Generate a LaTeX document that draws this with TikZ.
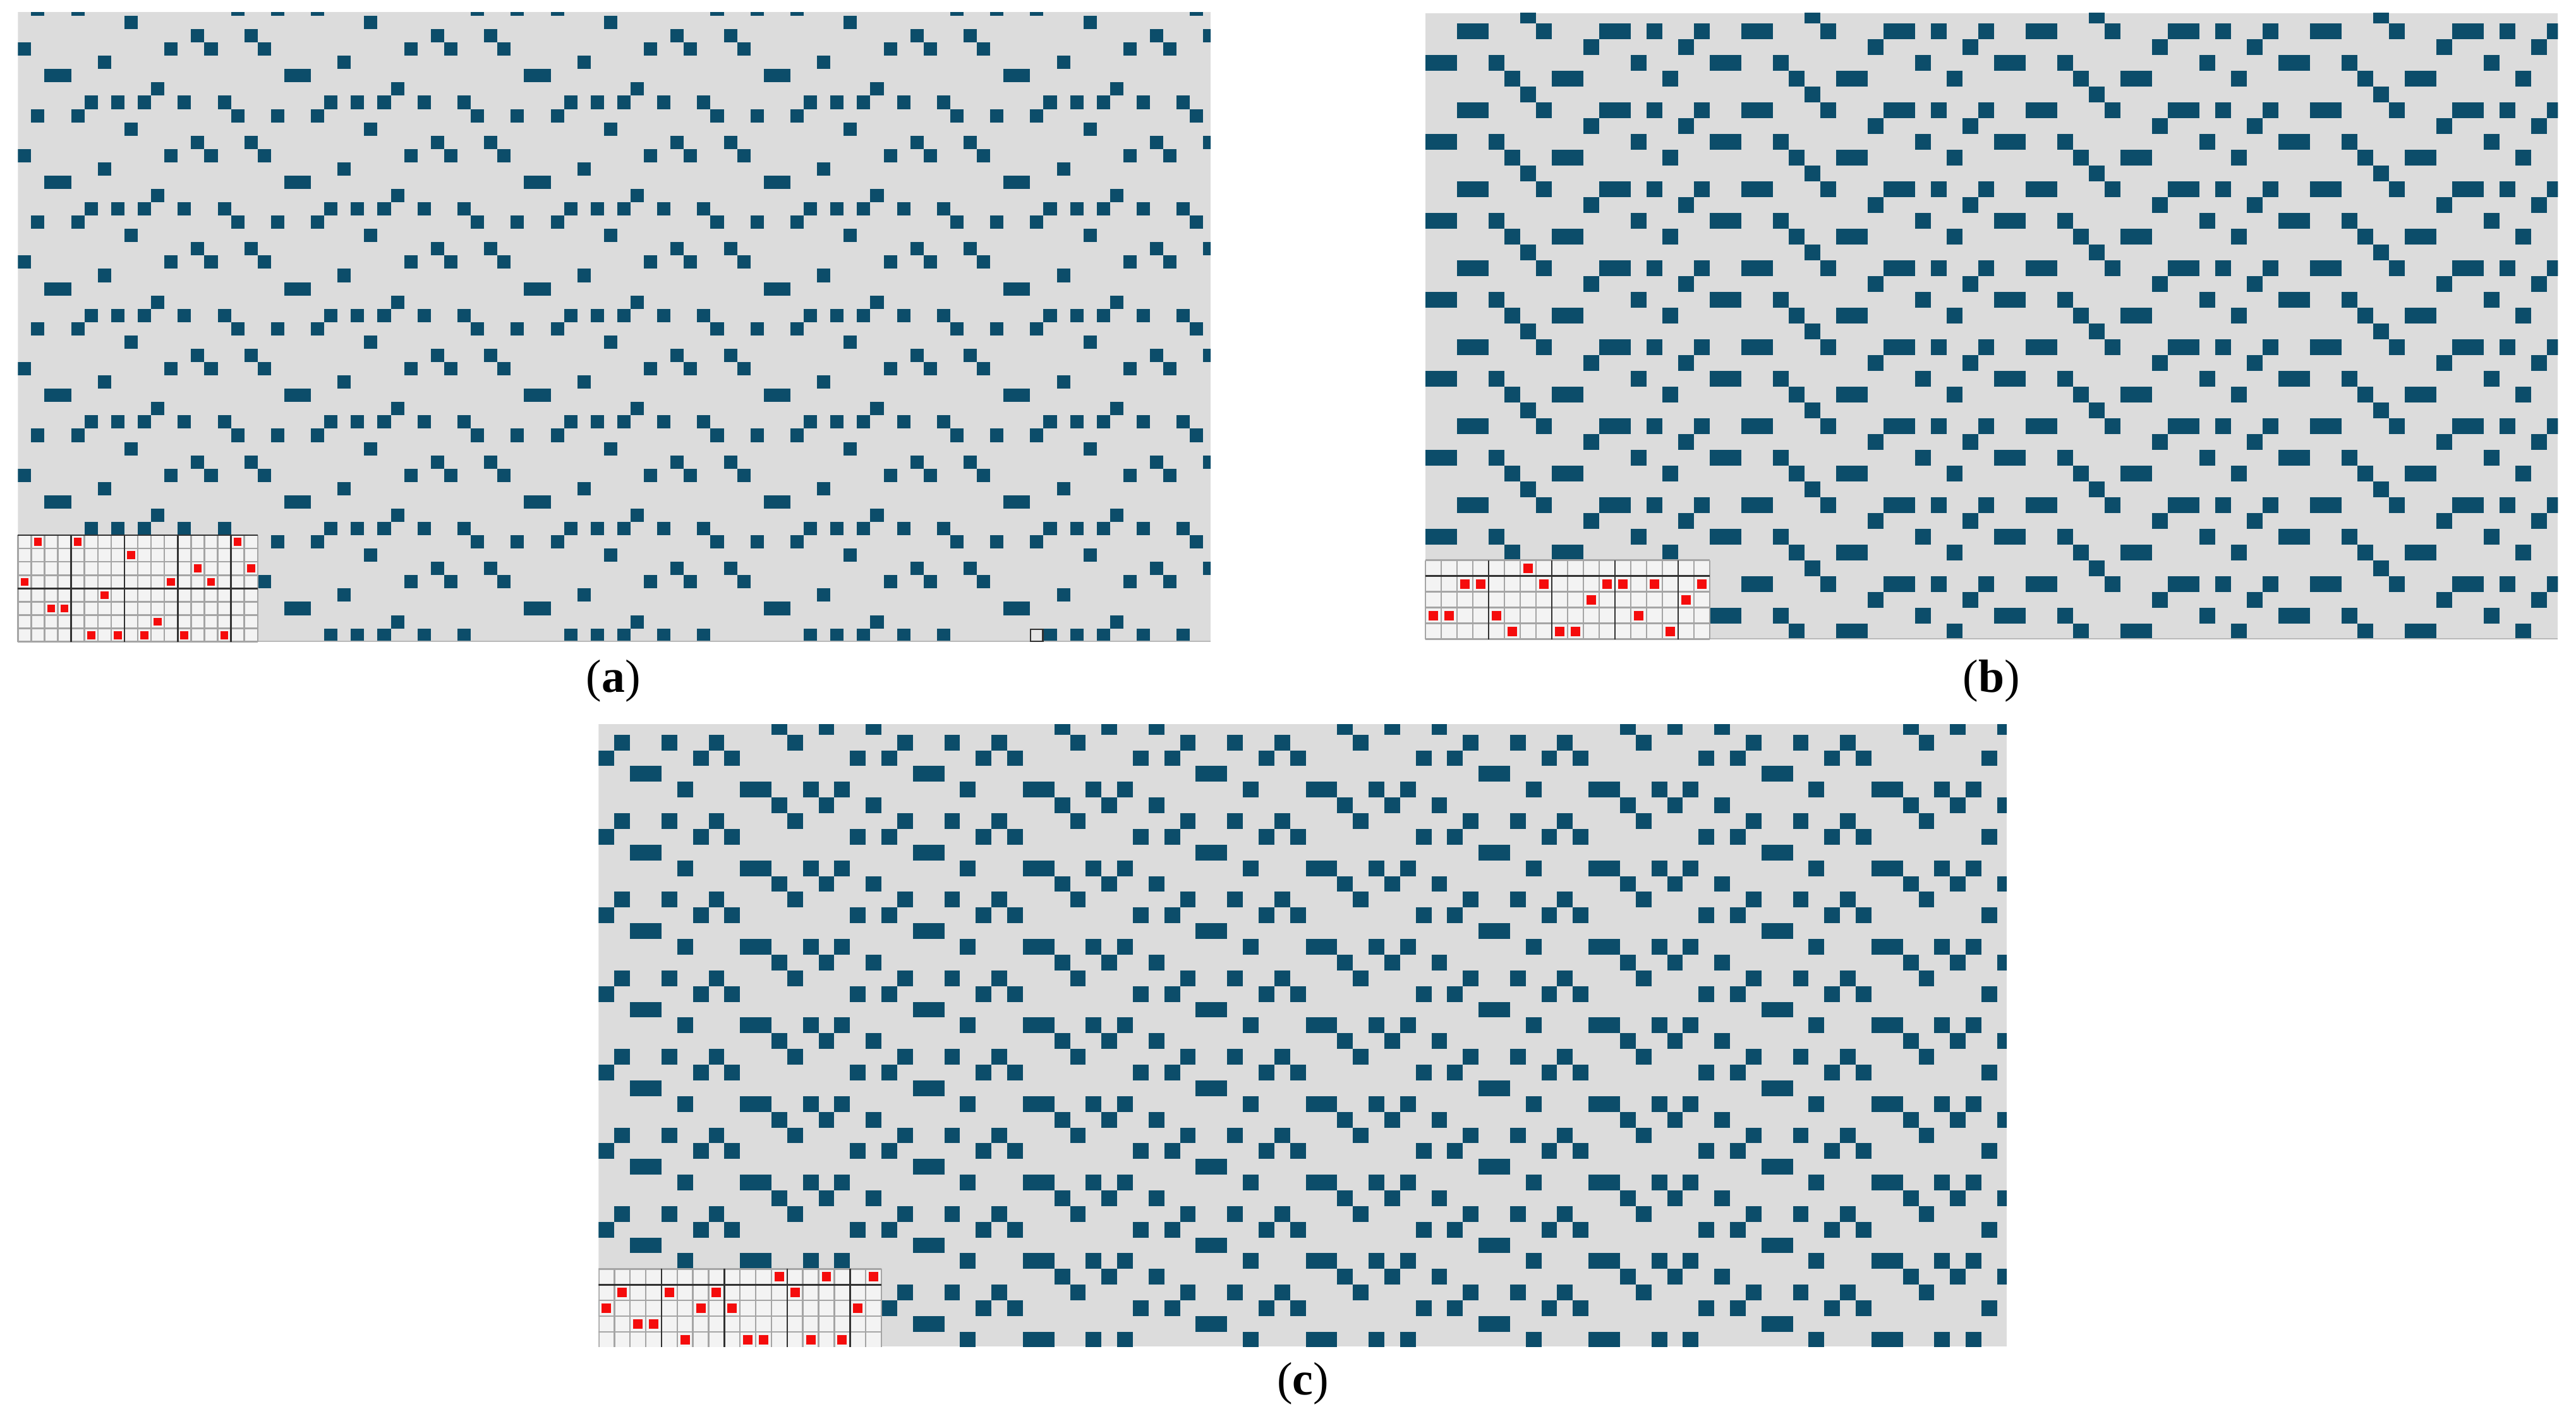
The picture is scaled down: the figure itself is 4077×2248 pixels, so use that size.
\documentclass[tikz,border=0pt]{standalone}
\usepackage{fontspec}
\setmainfont{Liberation Serif}
\definecolor{bgray}{RGB}{220,220,220}
\definecolor{weave}{RGB}{12,77,106}
\definecolor{gridlight}{RGB}{165,165,165}
\definecolor{griddark}{RGB}{50,50,50}
\definecolor{insetfill}{RGB}{243,243,243}
\definecolor{dotred}{RGB}{245,12,12}
\definecolor{edgegray}{RGB}{185,185,185}
\tikzset{
  panelbg/.style={fill=bgray},
  wcell/.style={fill=weave},
  ifill/.style={fill=insetfill},
  rdot/.style={fill=dotred},
  gthin/.style={draw=gridlight,line width=0.7pt},
  gthick/.style={draw=griddark,line width=0.75pt},
  edgeln/.style={draw=edgegray,line width=0.5pt},
  lbl/.style={font=\fontsize{21}{24}\selectfont,anchor=base,inner sep=0pt}
}
\begin{document}
\begin{tikzpicture}[x=0.1mm,y=-0.1mm]
\useasboundingbox (0,0) rectangle (4077,2248);
\fill[white] (0,0) rectangle (4077,2248);

% ---------------- panel (a) ----------------
\begin{scope}
\clip (28.3,19.3) rectangle (1916,1015.7);
\fill[panelbg] (28.3,19.3) rectangle (1916,1015.7);
\foreach \tx in {0,...,4}{
 \foreach \ty in {0,...,5}{
  \foreach \c/\j in {5/0,7/0,9/0,12/0,15/0,10/1,2/2,3/2,6/3,0/4,11/4,14/4,13/5,17/5,8/6,1/7,4/7,16/7}{
   \fill[wcell] ({28.3+(18*\tx+\c)*21.08},{1015.7-(8*\ty+\j)*21.08}) rectangle ++(21.08,-21.08);
  }}}
\draw[edgeln] (28.3,1015.2) -- (1916,1015.2);
\end{scope}
% selection outline
\draw[draw=griddark,line width=0.6pt,fill=bgray!70!white] (1631.4,1014.7) rectangle (1650.5,995.6);
% inset (a)
\fill[ifill] (28.3,847.1) rectangle (407.7,1015.7);
\foreach \c/\j in {5/0,7/0,9/0,12/0,15/0,10/1,2/2,3/2,6/3,0/4,11/4,14/4,13/5,17/5,8/6,1/7,4/7,16/7}{
  \fill[rdot] ({28.3+(\c+0.2)*21.08},{1015.7-(\j+0.2)*21.08}) rectangle ++(12.65,-12.65);
}
\foreach \k in {0,...,18}{\draw[gthin] ({28.3+\k*21.08},847.1) -- ({28.3+\k*21.08},1015.7);}
\foreach \k in {0,...,7}{\draw[gthin] (28.3,{1015.7-\k*21.08}) -- (407.7,{1015.7-\k*21.08});}
\foreach \k in {4,8,12,16}{\draw[gthick] ({28.3+\k*21.08},847.1) -- ({28.3+\k*21.08},1015.7);}
\foreach \k in {4,8}{\draw[gthick] (28.3,{1015.7-\k*21.08}) -- (407.7,{1015.7-\k*21.08});}

% ---------------- panel (b) ----------------
\begin{scope}
\clip (2256,20.8) rectangle (4048.3,1011.7);
\fill[panelbg] (2256,20.8) rectangle (4048.3,1011.7);
\foreach \tx in {0,...,3}{
 \foreach \ty in {0,...,7}{
  \foreach \c/\j in {5/0,8/0,9/0,15/0,0/1,1/1,4/1,13/1,10/2,16/2,2/3,3/3,7/3,11/3,12/3,14/3,17/3,6/4}{
   \fill[wcell] ({2256+(18*\tx+\c)*25},{1011.7-(5*\ty+\j)*25}) rectangle ++(25,-25);
  }}}
\draw[edgeln] (2256,1011.2) -- (4048.3,1011.2);
\end{scope}
% inset (b)
\fill[ifill] (2256,886.7) rectangle (2706,1011.7);
\foreach \c/\j in {5/0,8/0,9/0,15/0,0/1,1/1,4/1,13/1,10/2,16/2,2/3,3/3,7/3,11/3,12/3,14/3,17/3,6/4}{
  \fill[rdot] ({2256+(\c+0.2)*25},{1011.7-(\j+0.2)*25}) rectangle ++(15,-15);
}
\foreach \k in {0,...,18}{\draw[gthin] ({2256+\k*25},886.7) -- ({2256+\k*25},1011.7);}
\foreach \k in {0,...,5}{\draw[gthin] (2256,{1011.7-\k*25}) -- (2706,{1011.7-\k*25});}
\foreach \k in {4,8,12,16}{\draw[gthick] ({2256+\k*25},886.7) -- ({2256+\k*25},1011.7);}
\draw[gthick] (2256,911.7) -- (2706,911.7);

% ---------------- panel (c) ----------------
\begin{scope}
\clip (947.4,1146) rectangle (3176,2131);
\fill[panelbg] (947.4,1146) rectangle (3176,2131);
\foreach \tx in {0,...,4}{
 \foreach \ty in {0,...,7}{
  \foreach \c/\j in {5/0,9/0,10/0,13/0,15/0,2/1,3/1,0/2,6/2,8/2,16/2,1/3,4/3,7/3,12/3,11/4,14/4,17/4}{
   \fill[wcell] ({947.4+(18*\tx+\c)*24.87},{2132.65-(5*\ty+\j)*24.87}) rectangle ++(24.87,-24.87);
  }}}
\end{scope}
% inset (c)
\begin{scope}
\clip (947.4,2000) rectangle (1400,2131);
\fill[ifill] (947.4,2008.3) rectangle (1395.1,2132.65);
\foreach \c/\j in {5/0,9/0,10/0,13/0,15/0,2/1,3/1,0/2,6/2,8/2,16/2,1/3,4/3,7/3,12/3,11/4,14/4,17/4}{
  \fill[rdot] ({947.4+(\c+0.2)*24.87},{2132.65-(\j+0.2)*24.87}) rectangle ++(14.9,-14.9);
}
\foreach \k in {0,...,18}{\draw[gthin] ({947.4+\k*24.87},2008.3) -- ({947.4+\k*24.87},2132.65);}
\foreach \k in {1,...,5}{\draw[gthin] (947.4,{2132.65-\k*24.87}) -- (1395.1,{2132.65-\k*24.87});}
\foreach \k in {4,8,12,16}{\draw[gthick] ({947.4+\k*24.87},2008.3) -- ({947.4+\k*24.87},2132.65);}
\draw[gthick] (947.4,2033.17) -- (1395.1,2033.17);
\end{scope}

% ---------------- labels ----------------
\node[lbl] (lbla) at (971,1095) {(\textbf{a})};
\node[lbl] (lblb) at (3152,1095) {(\textbf{b})};
\node[lbl] (lblc) at (2062,2207) {(\textbf{c})};
\end{tikzpicture}
\end{document}
